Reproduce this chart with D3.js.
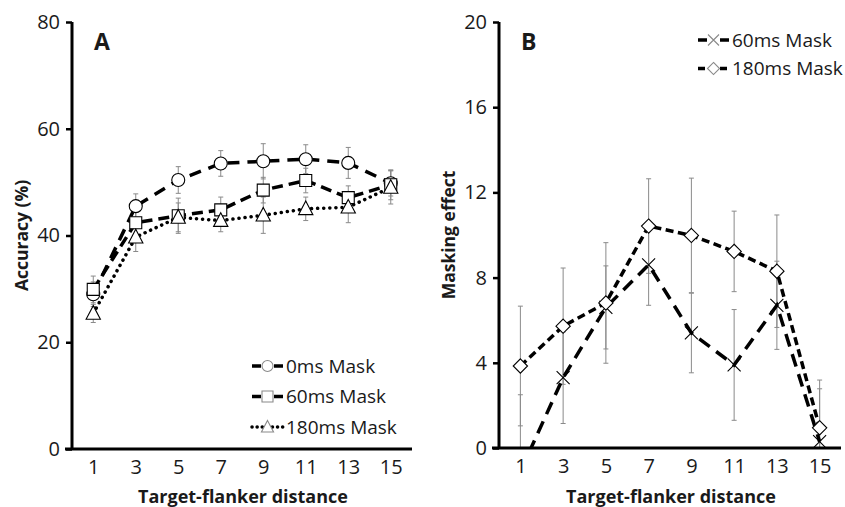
<!DOCTYPE html>
<html><head><meta charset="utf-8">
<script src="https://cdn.jsdelivr.net/npm/d3@7"></script>
<style>body{margin:0;background:#fff}svg{display:block}text{font-family:"Open Sans",sans-serif;fill:#1a1a1a}</style>
</head><body>
<svg id="c" width="845" height="507"></svg>
<script>
const distances = [1,3,5,7,9,11,13,15];
const xTicks = ["1","3","5","7","9","11","13","15"];
// Panel A: accuracy (%)
const acc0ms   = [29.0, 45.5, 50.4, 53.5, 53.9, 54.3, 53.6, 49.8];
const err0ms   = [2.3, 2.3, 2.5, 2.4, 3.3, 2.7, 2.9, 2.4];
const acc60ms  = [29.9, 42.4, 43.7, 44.8, 48.5, 50.3, 47.1, 49.5];
const err60ms  = [2.5, 2.7, 3.3, 2.4, 2.4, 2.3, 2.2, 2.8];
const acc180ms = [25.4, 39.7, 43.4, 42.8, 43.8, 45.0, 45.3, 49.0];
const err180ms = [1.7, 2.7, 2.7, 2.1, 3.4, 2.2, 2.9, 3.1];
const yTicksA = [0,20,40,60,80];
// Panel B: masking effect
const mask60  = [-1.1, 3.3, 6.6, 8.6, 5.4, 3.9, 6.7, 0.3];
const mErr60  = [3.6, 2.15, 1.95, 1.9, 1.87, 2.6, 2.07, 2.48];
const mask180 = [3.85, 5.72, 6.81, 10.42, 9.98, 9.23, 8.3, 0.95];
const mErr180 = [2.81, 2.73, 2.83, 2.22, 2.69, 1.89, 2.64, 2.24];
const yTicksB = [0,4,8,12,16,20];

const svg = d3.select("#c");
const grey = "#8a8a8a";

function symbolPath(type, size) {
  const s = size;
  if (type === "circle") return d3.symbol(d3.symbolCircle, s*s*0.785)();
  if (type === "square") return `M${-s/2},${-s/2}H${s/2}V${s/2}H${-s/2}Z`;
  if (type === "triangle") return `M0,${-s*0.6}L${s*0.55},${s*0.45}L${-s*0.55},${s*0.45}Z`;
  if (type === "diamond") return `M0,${-s*0.55}L${s*0.55},0L0,${s*0.55}L${-s*0.55},0Z`;
  if (type === "x") return `M${-s/2},${-s/2}L${s/2},${s/2}M${s/2},${-s/2}L${-s/2},${s/2}`;
}

function panel(opts) {
  const {x0, x1, y0, y1, yMax, yTicks, series, label, ytitle, ytitleX, id} = opts;
  const x = d3.scalePoint().domain(distances).range([x0, x1]).padding(0.5);
  const y = d3.scaleLinear().domain([0, yMax]).range([y0, y1]);
  const g = svg.append("g");
  g.append("clipPath").attr("id", id).append("rect")
    .attr("x", x0).attr("y", y1 - 10).attr("width", x1 - x0 + 10).attr("height", y0 - y1 + 10);
  const plot = g.append("g").attr("clip-path", `url(#${id})`);
  // error bars
  series.forEach(s => {
    const eb = plot.append("g").attr("stroke", grey).attr("stroke-width", 1);
    distances.forEach((d, i) => {
      const cx = x(d), top = y(s.values[i] + s.errors[i]), bot = y(s.values[i] - s.errors[i]);
      eb.append("line").attr("x1", cx).attr("x2", cx).attr("y1", top).attr("y2", bot);
      eb.append("line").attr("x1", cx-2.5).attr("x2", cx+2.5).attr("y1", top).attr("y2", top);
      eb.append("line").attr("x1", cx-2.5).attr("x2", cx+2.5).attr("y1", bot).attr("y2", bot);
    });
  });
  // lines
  series.forEach(s => {
    const line = d3.line().x((d,i) => x(distances[i])).y(d => y(d));
    plot.append("path").attr("d", line(s.values)).attr("fill", "none")
      .attr("stroke", "#000").attr("stroke-width", s.width || 3.5)
      .attr("stroke-dasharray", s.dash).attr("stroke-linecap", s.cap || "butt");
  });
  // markers
  series.forEach(s => {
    distances.forEach((d, i) => {
      plot.append("path").attr("d", symbolPath(s.symbol, s.msize || 13))
        .attr("transform", `translate(${x(d)},${y(s.values[i])})`)
        .attr("fill", s.symbol === "x" ? "none" : "#fff").attr("stroke", "#000").attr("stroke-width", 1.1);
    });
  });
  // axes
  const ya = g.append("g").attr("transform", `translate(${x0},0)`)
    .call(d3.axisLeft(y).tickValues(yTicks).tickSize(6).tickPadding(6));
  ya.select(".domain").attr("stroke", "#000").attr("stroke-width", 3).attr("d", `M0,${y0}V${y1}`);
  ya.selectAll(".tick line").attr("stroke", "#000").attr("stroke-width", 2.5);
  ya.selectAll(".tick text").attr("font-size", 20).attr("font-family", "Open Sans").attr("fill", "#1a1a1a");
  const xa = g.append("g").attr("transform", `translate(0,${y0})`)
    .call(d3.axisBottom(x).tickFormat((d,i) => xTicks[i]).tickSize(0).tickPadding(11));
  xa.select(".domain").attr("stroke", "#000").attr("stroke-width", 3).attr("d", `M${x0-7},0H${x1}`);
  xa.selectAll(".tick text").attr("font-size", 20).attr("font-family", "Open Sans").attr("fill", "#1a1a1a");
  // titles
  g.append("text").attr("x", (x0 + x1)/2 + 1).attr("y", 503).attr("text-anchor", "middle")
    .attr("font-size", 18).attr("font-weight", "bold").text("Target-flanker distance");
  g.append("text").attr("transform", `translate(${ytitleX},${(y0+y1)/2 + 0}) rotate(-90)`)
    .attr("text-anchor", "middle").attr("font-size", 17.5).attr("font-weight", "bold").text(ytitle);
  g.append("text").attr("x", x0 + 22).attr("y", 50).attr("font-size", 23).attr("font-weight", "bold").text(label);
  return {g, x, y};
}

const A = panel({id:"cA", x0:72, x1:412, y0:449, y1:22, yMax:80, yTicks:yTicksA, label:"A",
  ytitle:"Accuracy (%)", ytitleX:28,
  series:[
    {name:"0ms Mask", values:acc0ms, errors:err0ms, symbol:"circle", dash:"12,8"},
    {name:"60ms Mask", values:acc60ms, errors:err60ms, symbol:"square", dash:"11,6", msize:12},
    {name:"180ms Mask", values:acc180ms, errors:err180ms, symbol:"triangle", dash:"0.1,6", cap:"round", width:3.5, msize:13}
  ]});

const B = panel({id:"cB", x0:499, x1:841, y0:448, y1:22, yMax:20, yTicks:yTicksB, label:"B",
  ytitle:"Masking effect", ytitleX:455,
  series:[
    {name:"60ms Mask", values:mask60, errors:mErr60, symbol:"x", dash:"13,8", msize:13},
    {name:"180ms Mask", values:mask180, errors:mErr180, symbol:"diamond", dash:"8,4.5", msize:13}
  ]});

// legends
function legend(items, lx, ly, dy) {
  const lg = svg.append("g");
  items.forEach((it, i) => {
    const yy = ly + i*dy;
    lg.append("line").attr("x1", lx).attr("x2", lx + 31).attr("y1", yy).attr("y2", yy)
      .attr("stroke", "#000").attr("stroke-width", 3.5).attr("stroke-dasharray", it.dash).attr("stroke-linecap", it.cap || "butt");
    lg.append("path").attr("d", symbolPath(it.symbol, 11)).attr("transform", `translate(${lx+15.5},${yy})`)
      .attr("fill", it.symbol === "x" ? "none" : "#fff").attr("stroke", grey).attr("stroke-width", 1.1);
    lg.append("text").attr("x", lx + 34).attr("y", yy + 6.5).attr("font-size", 19).text(it.name);
  });
}
legend([
  {name:"0ms Mask", symbol:"circle", dash:"9,13,9"},
  {name:"60ms Mask", symbol:"square", dash:"9,13,9"},
  {name:"180ms Mask", symbol:"triangle", dash:"0.1,5", cap:"round"}
], 252, 366, 30.5);
legend([
  {name:"60ms Mask", symbol:"x", dash:"9,13,9"},
  {name:"180ms Mask", symbol:"diamond", dash:"7,4"}
], 698, 40, 28.5);
</script>
</body></html>
